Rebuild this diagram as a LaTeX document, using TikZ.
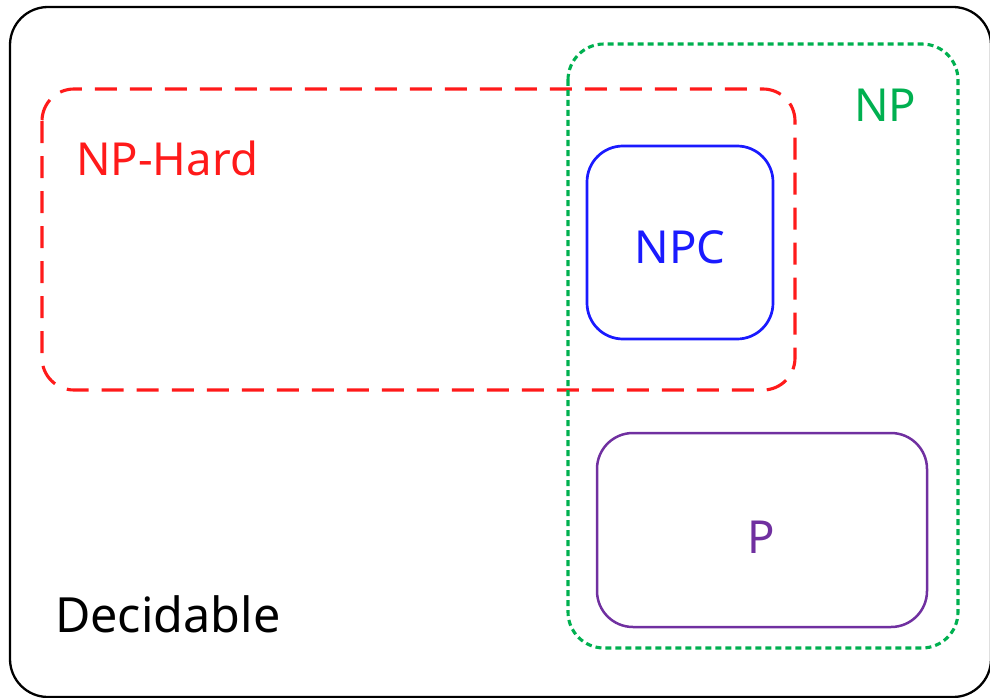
\documentclass[tikz,border=0pt]{standalone}
\usepackage{fontspec}
\newfontfamily\labelfont{Noto Sans}
\definecolor{hardred}{HTML}{FF1A1A}
\definecolor{npgreen}{HTML}{00B050}
\definecolor{npcblue}{HTML}{1A1AFF}
\definecolor{ppurple}{HTML}{7030A0}
\begin{document}
\begin{tikzpicture}[x=1pt,y=-1pt,
  setbox/.style={rounded corners=#1},
  lbl/.style={inner sep=0pt,font=\labelfont\fontsize{45.5}{48}\selectfont}]
\useasboundingbox (0,0) rectangle (990,698);
% Decidable: the outer frame
\draw[line width=2.3pt,black,setbox=38] (10,7) rectangle (991,697);
% NP-Hard
\draw[hardred,line width=3.1pt,dash pattern=on 22pt off 13pt,setbox=32] (42,89) rectangle (795,390);
% NP
\draw[npgreen,line width=3.1pt,dash pattern=on 6pt off 4pt,setbox=36] (568,44) rectangle (958,648);
% NPC
\draw[npcblue,line width=2.7pt,setbox=36] (587,146) rectangle (773,339);
% P
\draw[ppurple,line width=2.5pt,setbox=36] (597,433) rectangle (927,627);
% labels
\node[lbl,text=hardred,anchor=base west] (hard) at (76,175) {NP-Hard};
\node[lbl,text=npgreen,anchor=base west] (np) at (854,122) {NP};
\node[lbl,text=npcblue,anchor=base] (npc) at (680,263) {NPC};
\node[lbl,text=ppurple,anchor=base] (p) at (761,553) {P};
\node[lbl,text=black,anchor=base west,font=\labelfont\fontsize{48.5}{52}\selectfont] (dec) at (55,632) {Decidable};
\end{tikzpicture}
\end{document}
